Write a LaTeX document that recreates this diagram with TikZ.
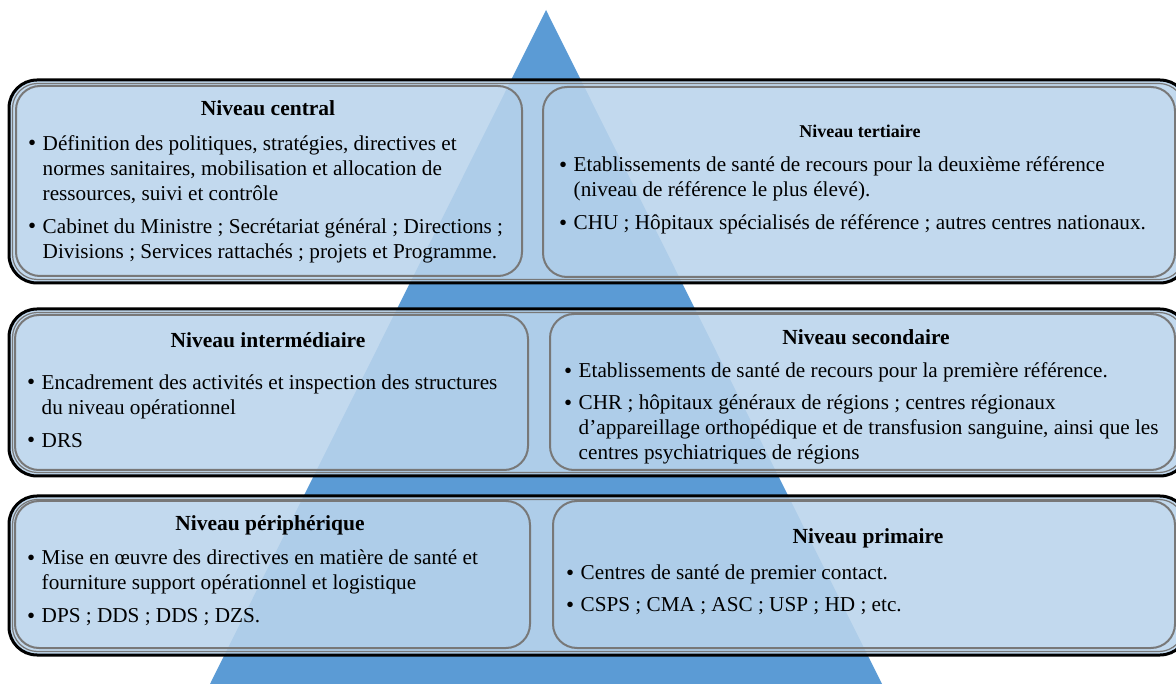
\documentclass[tikz,border=0pt]{standalone}
\usepackage{fontspec}
\setmainfont{Liberation Serif}
\usetikzlibrary{positioning}
\definecolor{pyramide}{RGB}{91,155,213}
\definecolor{bleupale}{RGB}{186,212,236}
\definecolor{bordgris}{RGB}{120,120,120}
\newcommand{\puce}[1]{\makebox[14.5pt][l]{\raisebox{-0.8pt}{\fontsize{23}{25}\selectfont\textbullet}}\begin{tabular}[t]{@{}l@{}}#1\end{tabular}}

\begin{document}
\begin{tikzpicture}[x=1pt,y=-1pt,
    niveau/.style={draw=black, line width=3pt, rounded corners=28pt, fill=bleupale, fill opacity=0.88},
    liseret/.style={draw=bordgris, line width=1.2pt, rounded corners=25pt},
    cadre/.style={draw=bordgris, line width=2pt, rounded corners=24pt},
    titre/.style={font=\fontsize{21.5}{25}\selectfont\bfseries},
    petittitre/.style={font=\fontsize{18}{21}\selectfont\bfseries},
    liste/.style={anchor=north west, inner sep=0pt, align=left,
        font=\fontsize{21.2}{25}\selectfont}
]
\useasboundingbox (0,0) rectangle (1176,684);
\begin{scope}
\clip (0,0) rectangle (1176,684);
% pyramide
\fill[pyramide] (546,10) -- (882,684) -- (210,684) -- cycle;
% les trois niveaux
\draw[niveau] (9,80) rectangle (1188,283);
\draw[niveau] (9,309) rectangle (1188,476);
\draw[niveau] (9,496) rectangle (1188,655);
\draw[liseret] (12.5,83.5) rectangle (1184,279.5);
\draw[liseret] (12.5,312.5) rectangle (1184,472.5);
\draw[liseret] (12.5,499.5) rectangle (1184,651.5);
\draw[cadre] (16,86) rectangle (522,276);
\draw[cadre] (543,87) rectangle (1175,277);
\draw[cadre] (15,315) rectangle (528,470);
\draw[cadre] (550,314) rectangle (1175,470);
\draw[cadre] (15,501) rectangle (530,648);
\draw[cadre] (553,501) rectangle (1175,648);
\end{scope}

% niveau central / tertiaire
\node[titre] (central) at (268,108) {Niveau central};
\node[liste] (centralL) at (28,132.5) {%
  \puce{Définition des politiques, stratégies, directives et\\normes sanitaires, mobilisation et allocation de\\ressources, suivi et contrôle}\\[7pt]
  \puce{Cabinet du Ministre ; Secrétariat général ; Directions ;\\Divisions ; Services rattachés ; projets et Programme.}};
\node[petittitre] (tertiaire) at (860,131) {Niveau tertiaire};
\node[liste] (tertiaireL) at (559,154) {%
  \puce{Etablissements de santé de recours pour la deuxième référence\\(niveau de référence le plus élevé).}\\[7pt]
  \puce{CHU ; Hôpitaux spécialisés de référence ; autres centres nationaux.}};

% niveau intermediaire / secondaire
\node[titre] (intermediaire) at (268,340) {Niveau intermédiaire};
\node[liste] (intermediaireL) at (27,371.5) {%
  \puce{Encadrement des activités et inspection des structures\\du niveau opérationnel}\\[7pt]
  \puce{DRS}};
\node[titre] (secondaire) at (866,337) {Niveau secondaire};
\node[liste] (secondaireL) at (564,360) {%
  \puce{Etablissements de santé de recours pour la première référence.}\\[7pt]
  \puce{CHR ; hôpitaux généraux de régions ; centres régionaux\\d’appareillage orthopédique et de transfusion sanguine, ainsi que les\\centres psychiatriques de régions}};

% niveau peripherique / primaire
\node[titre] (peripherique) at (270,525) {Niveau périphérique};
\node[liste] (peripheriqueL) at (27,547) {%
  \puce{Mise en œuvre des directives en matière de santé et\\fourniture support opérationnel et logistique}\\[7pt]
  \puce{DPS ; DDS ; DDS ; DZS.}};
\node[titre] (primaire) at (868,538) {Niveau primaire};
\node[liste] (primaireL) at (566,561.5) {%
  \puce{Centres de santé de premier contact.}\\[7pt]
  \puce{CSPS ; CMA ; ASC ; USP ; HD ; etc.}};
\end{tikzpicture}
\end{document}
